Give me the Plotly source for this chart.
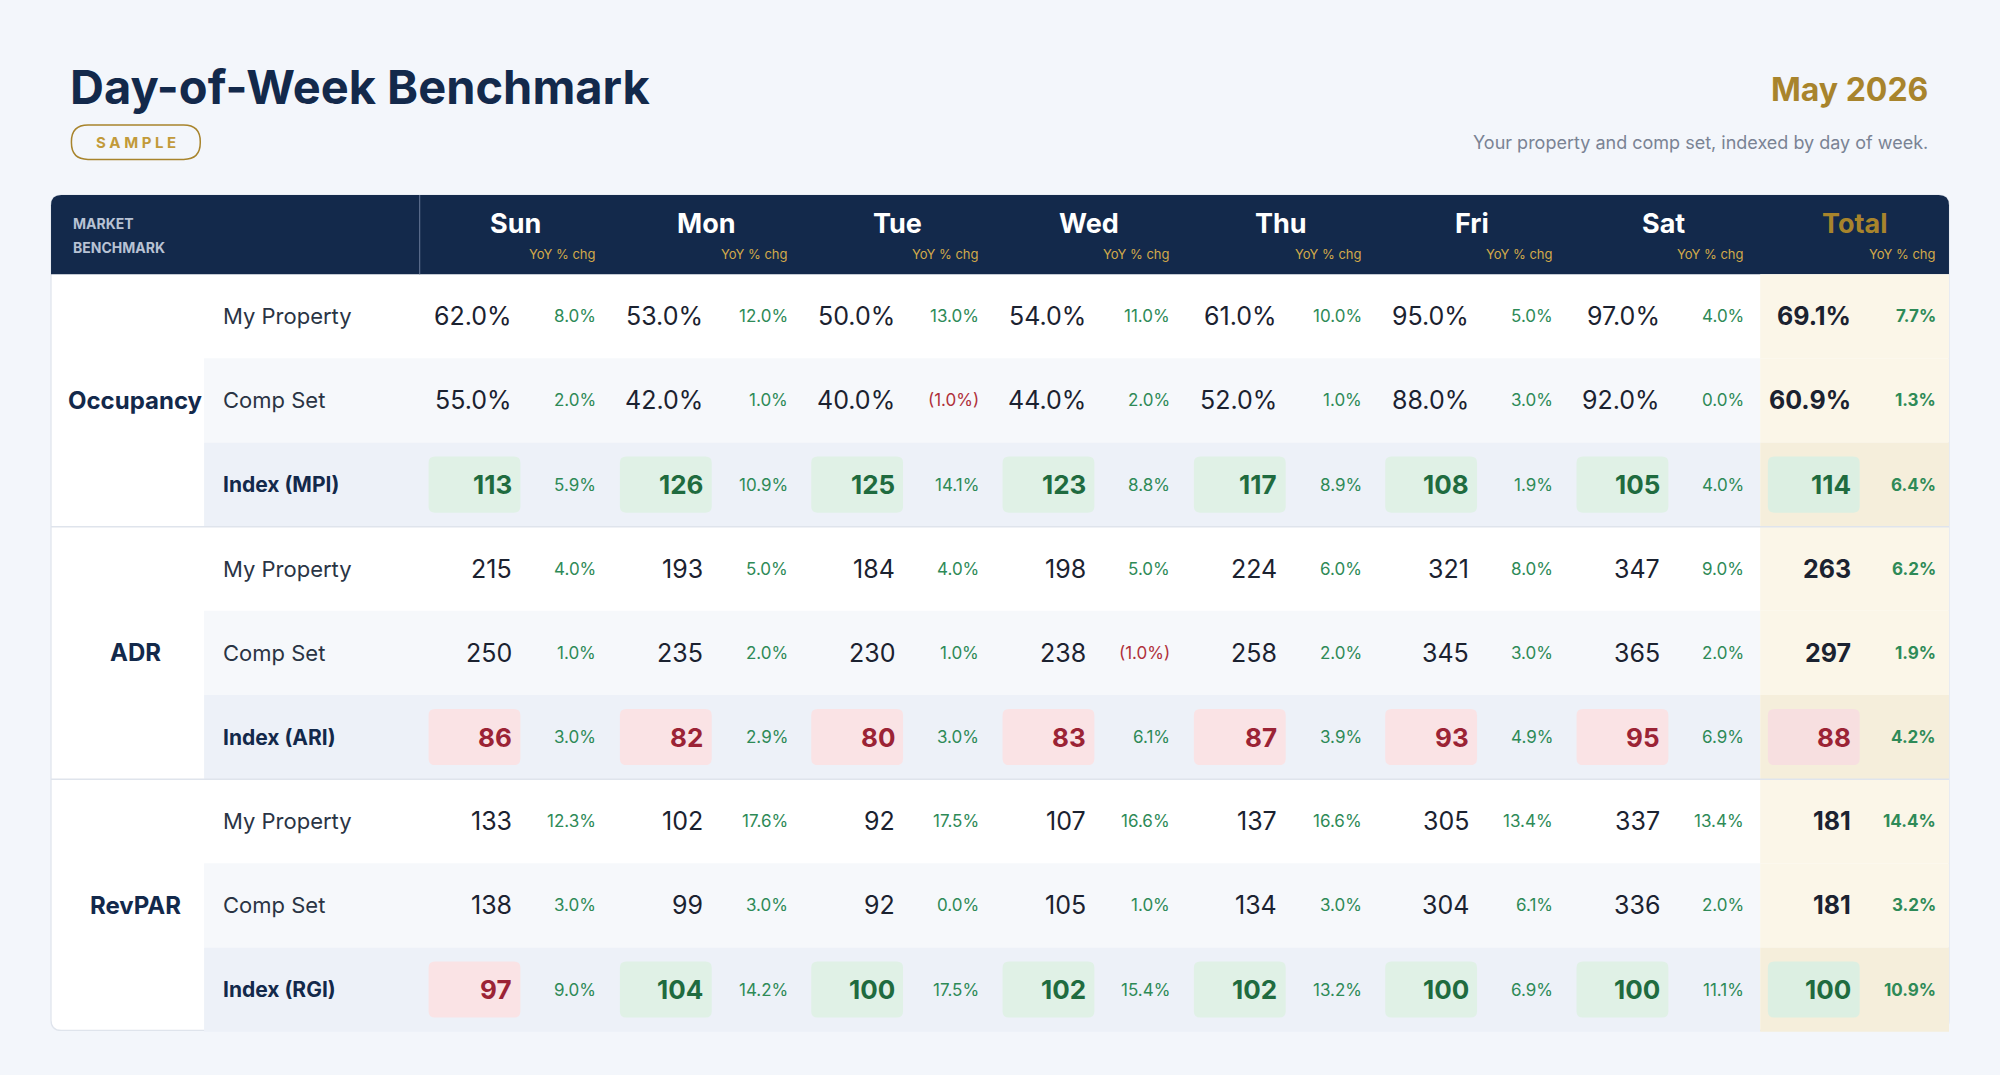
import plotly.graph_objects as go

# ---- data ----
days = ["Sun", "Mon", "Tue", "Wed", "Thu", "Fri", "Sat", "Total"]
metrics = ["Occupancy", "ADR", "RevPAR"]
row_labels = [["My Property", "Comp Set", "Index (MPI)"],
              ["My Property", "Comp Set", "Index (ARI)"],
              ["My Property", "Comp Set", "Index (RGI)"]]

occ_my = [62.0, 53.0, 50.0, 54.0, 61.0, 95.0, 97.0, 69.1]
occ_my_yoy = [8.0, 12.0, 13.0, 11.0, 10.0, 5.0, 4.0, 7.7]
occ_comp = [55.0, 42.0, 40.0, 44.0, 52.0, 88.0, 92.0, 60.9]
occ_comp_yoy = [2.0, 1.0, -1.0, 2.0, 1.0, 3.0, 0.0, 1.3]
mpi = [113, 126, 125, 123, 117, 108, 105, 114]
mpi_yoy = [5.9, 10.9, 14.1, 8.8, 8.9, 1.9, 4.0, 6.4]

adr_my = [215, 193, 184, 198, 224, 321, 347, 263]
adr_my_yoy = [4.0, 5.0, 4.0, 5.0, 6.0, 8.0, 9.0, 6.2]
adr_comp = [250, 235, 230, 238, 258, 345, 365, 297]
adr_comp_yoy = [1.0, 2.0, 1.0, -1.0, 2.0, 3.0, 2.0, 1.9]
ari = [86, 82, 80, 83, 87, 93, 95, 88]
ari_yoy = [3.0, 2.9, 3.0, 6.1, 3.9, 4.9, 6.9, 4.2]

rev_my = [133, 102, 92, 107, 137, 305, 337, 181]
rev_my_yoy = [12.3, 17.6, 17.5, 16.6, 16.6, 13.4, 13.4, 14.4]
rev_comp = [138, 99, 92, 105, 134, 304, 336, 181]
rev_comp_yoy = [3.0, 3.0, 0.0, 1.0, 3.0, 6.1, 2.0, 3.2]
rgi = [97, 104, 100, 102, 102, 100, 100, 100]
rgi_yoy = [9.0, 14.2, 17.5, 15.4, 13.2, 6.9, 11.1, 10.9]

# ---- styles ----
NAVY = "#13294b"
GOLD = "#a8842c"
GREEN = "#2e8a57"
RED = "#b0303a"
FONT = "Inter"
W, H = 1568, 843  # design units, scaled to 2000x1075

fig = go.Figure()
shapes, ann = [], []


def rrect(x0, y0, x1, y1, r, fill, line=None, lw=0, top_only=False):
    bot_r = 0 if top_only else r
    p = (f"M{x0+r},{y0} L{x1-r},{y0} Q{x1},{y0} {x1},{y0+r} "
         f"L{x1},{y1-bot_r} Q{x1},{y1} {x1-bot_r},{y1} L{x0+bot_r},{y1} "
         f"Q{x0},{y1} {x0},{y1-bot_r} L{x0},{y0+r} Q{x0},{y0} {x0+r},{y0} Z")
    shapes.append(dict(type="path", path=p, fillcolor=fill, layer="below",
                       line=dict(color=line or fill, width=lw)))


def rect(x0, y0, x1, y1, fill):
    shapes.append(dict(type="rect", x0=x0, y0=y0, x1=x1, y1=y1, fillcolor=fill,
                       line=dict(width=0), layer="below"))


def text(x, y, s, size, color, anchor="left", bold=False):
    if bold:
        s = f"<b>{s}</b>"
    ann.append(dict(x=x, y=y, text=s, showarrow=False, xanchor=anchor, yanchor="middle",
                    font=dict(family=FONT, size=size, color=color)))


# header texts
text(53, 68, "Day-of-Week Benchmark", 47, NAVY, bold=True)
rrect(56, 98, 157, 125, 13, "rgba(0,0,0,0)", GOLD, 1.5)
text(106.5, 111.5, "S A M P L E", 15, "#c29a3a", "center", bold=True)
text(1513, 70, "May 2026", 32, GOLD, "right", bold=True)
text(1513, 112, "Your property and comp set, indexed by day of week.", 18, "#7a8394", "right")

# card
T0, ROW = 215, 66
rrect(40, 153, 1528, 808, 8, "white", "#dfe4ec", 1.2)
rrect(40, 153, 1528, T0, 8, NAVY, top_only=True)
shapes.append(dict(type="line", x0=329, x1=329, y0=153, y1=T0, line=dict(color="#5b6d8c", width=1.2)))
text(56, 175, "MARKET", 14, "#b8c2d4", bold=True)
text(56, 194, "BENCHMARK", 14, "#b8c2d4", bold=True)

col0 = [330 + 150 * i for i in range(8)]
for i, d in enumerate(days):
    c = col0[i]
    text(c + 74, 175, d, 27, GOLD if d == "Total" else "white", "center", bold=True)
    text(c + 139, 199, "YoY % chg", 13, "#d2a94a", "right")

# body backgrounds
for g in range(3):
    for r in range(3):
        y0 = T0 + (g * 3 + r) * ROW
        if r == 1:
            rect(160, y0, 1380, y0 + ROW, "#f6f8fb")
        if r == 2:
            rect(160, y0, 1380, y0 + ROW, "#edf1f8")
        rect(1380, y0, 1528, y0 + ROW, "#f5eedb" if r == 2 else "#fbf6e8")
    if g > 0:
        yl = T0 + g * 3 * ROW
        shapes.append(dict(type="line", x0=40, x1=1528, y0=yl, y1=yl,
                           line=dict(color="#dfe4ec", width=1.5)))


def pct(v):
    return f"({abs(v):.1f}%)" if v < 0 else f"{v:.1f}%"


groups = [
    [(occ_my, occ_my_yoy, "pct"), (occ_comp, occ_comp_yoy, "pct"), (mpi, mpi_yoy, "idx")],
    [(adr_my, adr_my_yoy, "num"), (adr_comp, adr_comp_yoy, "num"), (ari, ari_yoy, "idx")],
    [(rev_my, rev_my_yoy, "num"), (rev_comp, rev_comp_yoy, "num"), (rgi, rgi_yoy, "idx")],
]

for g, rows in enumerate(groups):
    text(106, T0 + (g * 3 + 1.5) * ROW, metrics[g], 24, NAVY, "center", bold=True)
    for r, (vals, yoys, kind) in enumerate(rows):
        yc = T0 + (g * 3 + r + 0.5) * ROW
        text(173, yc, row_labels[g][r], 22 if kind != "idx" else 21, NAVY if kind == "idx" else "#2a3444",
             bold=(kind == "idx"))
        for i, v in enumerate(vals):
            c = col0[i]
            total = days[i] == "Total"
            if kind == "idx":
                good = v >= 100
                rrect(c + 6, yc - 22, c + 78, yc + 22, 5,
                      ("#e0f1e6" if good else "#fae3e5") if not total else ("#dcefe2" if good else "#f7dfe0"))
                text(c + 73, yc, str(v), 26, "#1f6b3f" if good else "#9b2335", "right", bold=True)
            else:
                s = f"{v:.1f}%" if kind == "pct" else str(v)
                text(c + 73, yc, s, 25, "#1b2230", "right", bold=total)
            y = yoys[i]
            text(c + 139, yc, pct(y), 17, RED if y < 0 else GREEN, "right", bold=total)

fig.update_layout(
    width=2000, height=1075, margin=dict(l=0, r=0, t=0, b=0),
    paper_bgcolor="#f3f6fb", plot_bgcolor="#f3f6fb",
    xaxis=dict(range=[0, W], visible=False, fixedrange=True),
    yaxis=dict(range=[H, 0], visible=False, fixedrange=True),
    shapes=shapes, annotations=ann, showlegend=False,
)
fig.write_html("out.html", config={"displayModeBar": False},
               post_script="document.body.style.margin='0';document.body.style.background='#f3f6fb';")
